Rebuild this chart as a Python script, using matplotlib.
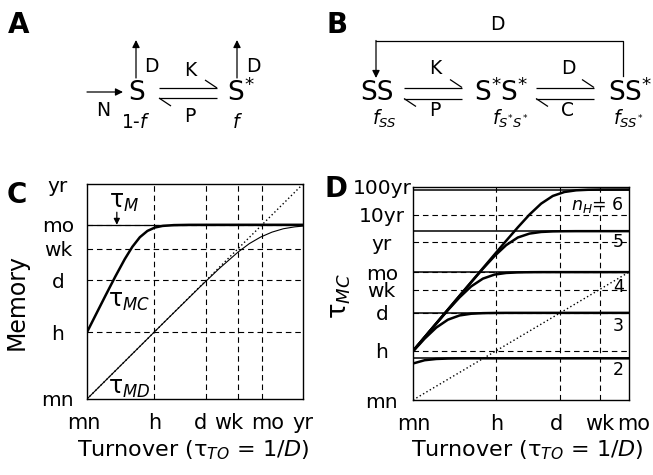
import numpy as np
import matplotlib
matplotlib.use("Agg")
import matplotlib.pyplot as plt
from matplotlib.ticker import NullLocator
from matplotlib.transforms import ScaledTranslation

plt.rcParams['font.family'] = ['DejaVu Sans']
plt.rcParams['mathtext.fontset'] = 'dejavusans'

# time scale in minutes
MN, HR, DAY, WK, MO, YR = 1, 60, 1440, 10080, 43200, 525600
YR10, YR100 = 5256000, 52560000

# ---- panel C (values as log10 minutes)
c_ticks = [MN, HR, DAY, WK, MO, YR]
c_labels = ["mn", "h", "d", "wk", "mo", "yr"]
c_ygrid = [HR, DAY, WK, MO]
c_xgrid = [HR, DAY, WK, MO]

mc_turnover = [0, 0.25, 0.5, 0.75, 1.0, 1.2, 1.4, 1.6, 1.8, 2.0, 2.3, 2.7, 3.5, 5.72]
mc_memory = [1.778, 2.276, 2.772, 3.259, 3.722, 4.048, 4.305, 4.472, 4.563, 4.605,
             4.627, 4.634, 4.635, 4.635]

md_turnover = [0, 1, 2, 3, 3.5, 4.0, 4.3, 4.6, 4.9, 5.2, 5.5, 5.72]
md_memory = [0, 1.0, 2.0, 2.99, 3.469, 3.909, 4.135, 4.31, 4.44, 4.53, 4.58, 4.601]

tau_m = MO

# ---- panel D
d_xticks = [MN, HR, DAY, WK, MO]
d_xlabels = ["mn", "h", "d", "wk", "mo"]
d_yticks = [MN, HR, DAY, WK, MO, YR, YR10, YR100]
d_ylabels = ["mn", "h", "d", "wk", "mo", "yr", "10yr", "100yr"]
d_ygrid = [HR, DAY, WK, MO, YR, YR10]
d_xgrid = [HR, DAY, WK]

d_turnover = [0, 0.25, 0.5, 0.75, 1.0, 1.25, 1.5, 1.75, 2.0, 2.25, 2.5, 2.75,
              3.0, 3.25, 3.5, 3.75, 4.0, 4.635]
tmc_n2 = [1.323, 1.442, 1.487, 1.503, 1.508, 1.51, 1.51, 1.51, 1.51, 1.51, 1.51,
          1.51, 1.51, 1.51, 1.51, 1.51, 1.51, 1.51]
tmc_n3 = [1.761, 2.225, 2.626, 2.912, 3.065, 3.127, 3.148, 3.155, 3.158, 3.158,
          3.158, 3.158, 3.158, 3.158, 3.158, 3.158, 3.158, 3.158]
tmc_n4 = [1.777, 2.276, 2.772, 3.259, 3.721, 4.120, 4.399, 4.546, 4.605, 4.625,
          4.632, 4.635, 4.635, 4.635, 4.635, 4.635, 4.635, 4.635]
tmc_n5 = [1.778, 2.278, 2.778, 3.278, 3.776, 4.272, 4.759, 5.219, 5.614, 5.891,
          6.032, 6.091, 6.111, 6.117, 6.12, 6.12, 6.12, 6.12]
tmc_n6 = [1.778, 2.278, 2.778, 3.278, 3.778, 4.277, 4.777, 5.276, 5.772, 6.259,
          6.721, 7.118, 7.396, 7.540, 7.600, 7.620, 7.627, 7.63]
n_h = ["2", "3", "4", "5", "6"]
sat_levels = [1.51, 3.158, 4.635, 6.12, 7.63]
n_h_label_y = [1.09, 2.68, 4.09, 5.72, 7.07]

fig = plt.figure(figsize=(6.53, 4.75), dpi=100)
W, H = 653, 475


def px_axes(l, t, r, b):
    return fig.add_axes([l / W, 1 - b / H, (r - l) / W, (b - t) / H])


dash = (0, (5, 3.5))
dots = (0, (1, 1.8))

# ---------------- C
axc = px_axes(87, 184, 303, 399)
axc.set_xscale('log')
axc.set_yscale('log')
axc.set_xlim(MN, YR)
axc.set_ylim(MN, YR)
for v in c_xgrid:
    axc.axvline(v, color='k', lw=0.8, ls=dash)
for v in c_ygrid:
    axc.axhline(v, color='k', lw=0.8, ls=dash)
axc.plot([MN, YR], [MN, YR], color='k', lw=1.0, ls=dots)
axc.axhline(tau_m, color='k', lw=0.9)
axc.plot(10 ** np.array(md_turnover), 10 ** np.array(md_memory), color='k', lw=0.8)
axc.plot(10 ** np.array(mc_turnover), 10 ** np.array(mc_memory), color='k', lw=1.8,
         solid_capstyle='butt')
axc.annotate('', xy=(10 ** 0.79, tau_m), xytext=(10 ** 0.79, 10 ** 4.97),
             arrowprops=dict(arrowstyle='-|>', color='k', lw=0.9, mutation_scale=9,
                             shrinkA=0, shrinkB=0))
axc.text(10 ** 0.58, 10 ** 5.25, "τ$_{M}$", fontsize=17, va='center')
axc.text(10 ** 0.56, 10 ** 2.62, "τ$_{MC}$", fontsize=17, va='center')
axc.text(10 ** 0.56, 10 ** 0.28, "τ$_{MD}$", fontsize=17, va='center')

# ---------------- D
axd = px_axes(413, 187, 629, 400)
axd.set_xscale('log')
axd.set_yscale('log')
axd.set_xlim(MN, MO)
axd.set_ylim(MN, YR100)
for v in d_xgrid:
    axd.axvline(v, color='k', lw=0.8, ls=dash)
for v in d_ygrid:
    axd.axhline(v, color='k', lw=0.8, ls=dash)
axd.plot([MN, MO], [MN, MO], color='k', lw=1.0, ls=dots)
tx = 10 ** np.array(d_turnover)
for lev in sat_levels:
    axd.axhline(10 ** lev, color='k', lw=1.1)
for ys in [tmc_n2, tmc_n3, tmc_n4, tmc_n5, tmc_n6]:
    axd.plot(tx, 10 ** np.array(ys), color='k', lw=1.8)
for ly, lab in zip(n_h_label_y, n_h):
    txt = lab if lab != "6" else "$n_H$= 6"
    axd.text(10 ** 4.53, 10 ** ly, txt, fontsize=12.5, ha='right', va='center')

# x tick label nudges (pixels) so neighbouring labels do not collide
c_xshift = [-3, 1, -6, -9, 6, 0]
d_xshift = [1, 1, -4, 0, 5]

for ax, xt, xl, yt, yl, ypad, shifts in [
        (axc, c_ticks, c_labels, c_ticks, c_labels, 21, c_xshift),
        (axd, d_xticks, d_xlabels, d_yticks, d_ylabels, 22.5, d_xshift)]:
    ax.xaxis.set_minor_locator(NullLocator())
    ax.yaxis.set_minor_locator(NullLocator())
    ax.set_xticks(xt)
    ax.set_xticklabels(xl, fontsize=15)
    ax.set_yticks(yt)
    ax.set_yticklabels(yl, fontsize=14.5)
    ax.tick_params(axis='x', length=0, pad=21.5)
    ax.tick_params(axis='y', length=0, pad=ypad)
    for t, dx in zip(ax.get_xticklabels(), shifts):
        t.set_va('baseline')
        t.set_transform(t.get_transform()
                        + ScaledTranslation(dx / 100, 0, fig.dpi_scale_trans))
    for t in ax.get_yticklabels():
        t.set_ha('center')
    for s in ax.spines.values():
        s.set_linewidth(1.0)

xlab = "Turnover (τ$_{TO}$ = $\\mathit{1/D}$)"
axc.set_xlabel(xlab, fontsize=16, va='center')
axc.xaxis.set_label_coords((193 - 87) / 216, (399 - 450) / 215)
axd.set_xlabel(xlab, fontsize=16, va='center')
axd.xaxis.set_label_coords((527 - 413) / 216, (400 - 450) / 213)
axc.set_ylabel("Memory", fontsize=17, va='center')
axc.yaxis.set_label_coords((17 - 87) / 216, (399 - 302) / 215)
axd.set_ylabel("τ$_{MC}$", fontsize=18.5, va='center')
axd.yaxis.set_label_coords((340 - 413) / 216, (400 - 296) / 213)

# ---------------- reaction schemes (pixel overlay)
ov = fig.add_axes([0, 0, 1, 1])
ov.set_xlim(0, W)
ov.set_ylim(H, 0)
ov.axis('off')


def arrow(x0, y0, x1, y1):
    ov.annotate('', xy=(x1, y1), xytext=(x0, y0),
                arrowprops=dict(arrowstyle='-|>', color='k', lw=0.9, mutation_scale=11,
                                shrinkA=0, shrinkB=0))


def harpoon(x0, x1, y_top, y_bot):
    kw = dict(color='k', lw=0.9, solid_capstyle='butt')
    ov.plot([x0, x1], [y_top, y_top], **kw)
    ov.plot([x1 - 12, x1], [y_top - 8, y_top], **kw)
    ov.plot([x0, x1], [y_bot, y_bot], **kw)
    ov.plot([x0, x0 + 12], [y_bot, y_bot + 8], **kw)


big, small = 19, 13.5
# A
ov.text(19, 25, "A", fontsize=20, weight='bold', ha='center', va='center')
arrow(136, 78, 136, 40)
arrow(237, 78, 237, 40)
arrow(87, 92, 123, 92)
harpoon(159, 217, 88, 98)
ov.text(137, 93, "S", fontsize=big, ha='center', va='center')
ov.text(241, 93, "S$^{*}$", fontsize=big, ha='center', va='center')
ov.text(151, 66, "D", fontsize=small, ha='center', va='center')
ov.text(253, 66, "D", fontsize=small, ha='center', va='center')
ov.text(190, 70, "K", fontsize=small, ha='center', va='center')
ov.text(190, 116, "P", fontsize=small, ha='center', va='center')
ov.text(103, 110, "N", fontsize=small, ha='center', va='center')
ov.text(136, 122, "1-$f$", fontsize=small, ha='center', va='center')
ov.text(237, 122, "$f$", fontsize=small, ha='center', va='center')

# B
ov.text(337, 25, "B", fontsize=20, weight='bold', ha='center', va='center')
ov.plot([623, 623, 376], [76, 41, 41], color='k', lw=0.9)
arrow(376, 40.5, 376, 78)
ov.text(497, 25, "D", fontsize=small, ha='center', va='center')
harpoon(404, 462, 87.5, 98.5)
harpoon(536, 594, 87.5, 98.5)
ov.text(377, 93, "SS", fontsize=big, ha='center', va='center')
ov.text(501, 93, "S$^{*}$S$^{*}$", fontsize=big, ha='center', va='center')
ov.text(630, 93, "SS$^{*}$", fontsize=big, ha='center', va='center')
ov.text(435, 68, "K", fontsize=small, ha='center', va='center')
ov.text(435, 110, "P", fontsize=small, ha='center', va='center')
ov.text(568, 68, "D", fontsize=small, ha='center', va='center')
ov.text(568, 110, "C", fontsize=small, ha='center', va='center')
ov.text(384, 119, "$f_{SS}$", fontsize=small, ha='center', va='center')
ov.text(510, 119, "$f_{S^{*}S^{*}}$", fontsize=small, ha='center', va='center')
ov.text(628, 119, "$f_{SS^{*}}$", fontsize=small, ha='center', va='center')

# panel letters C, D
ov.text(17, 195, "C", fontsize=20, weight='bold', ha='center', va='center')
ov.text(336, 189, "D", fontsize=20, weight='bold', ha='center', va='center')

fig.savefig("out.png", dpi=100)
